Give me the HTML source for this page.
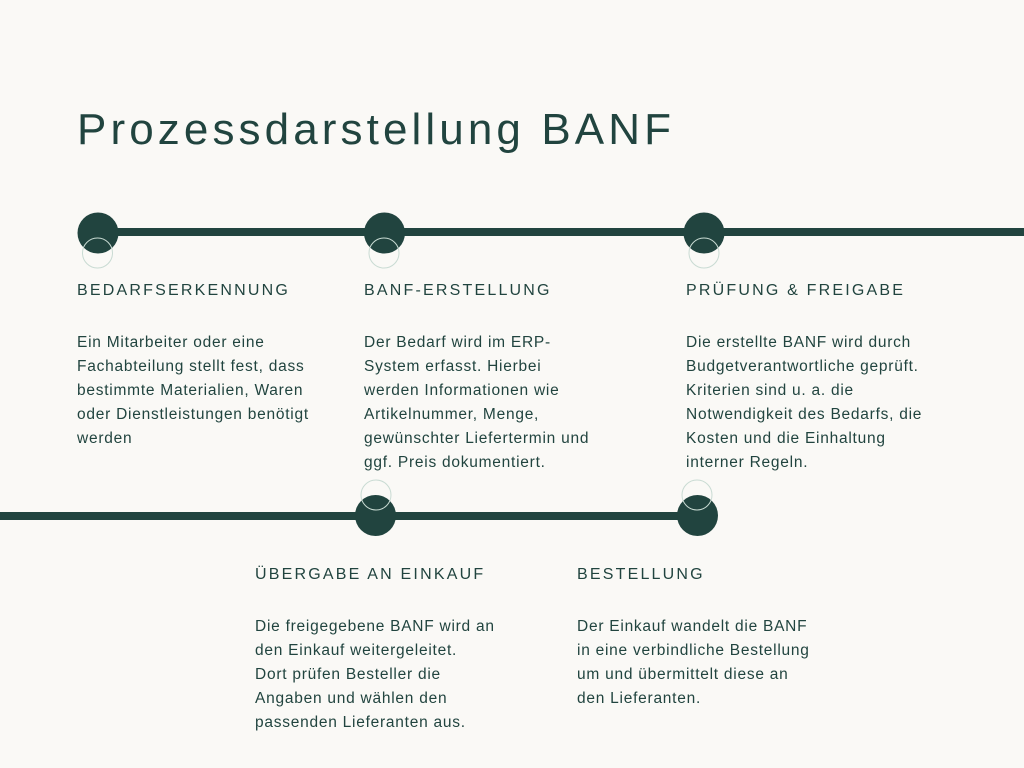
<!DOCTYPE html>
<html><head><meta charset="utf-8"><style>
body{margin:0;width:1024px;height:768px;background:#faf9f6;position:relative;overflow:hidden;font-family:"Liberation Sans",sans-serif;color:#21443f}
.t{position:absolute;left:77px;top:102px;font-size:44px;letter-spacing:4.1px;line-height:56px;white-space:nowrap}
.h{position:absolute;font-size:16px;letter-spacing:2.2px;line-height:20px;white-space:nowrap}
.p{position:absolute;font-size:15.5px;letter-spacing:0.75px;line-height:24px;white-space:nowrap}
</style></head><body>
<svg width="1024" height="768" style="position:absolute;left:0;top:0">
<rect x="98" y="228" width="926" height="8" fill="#21443f"/>
<rect x="0" y="512" width="698" height="8" fill="#21443f"/>
<g fill="#21443f">
<circle cx="98" cy="233" r="20.5"/><circle cx="384.5" cy="233" r="20.5"/><circle cx="704" cy="233" r="20.5"/>
<circle cx="375.5" cy="515.5" r="20.5"/><circle cx="697.5" cy="515.5" r="20.5"/>
</g>
<g fill="none" stroke="#c9dbd3" stroke-width="1">
<circle cx="97.5" cy="253" r="15"/><circle cx="384" cy="253" r="15"/><circle cx="704" cy="253" r="15"/>
<circle cx="376" cy="495" r="15"/><circle cx="697" cy="495" r="15"/>
</g>
</svg>
<div class="t">Prozessdarstellung BANF</div>
<div class="h" style="left:77px;top:281px">BEDARFSERKENNUNG</div>
<div class="h" style="left:364px;top:281px">BANF-ERSTELLUNG</div>
<div class="h" style="left:686px;top:281px">PRÜFUNG &amp; FREIGABE</div>
<div class="h" style="left:255px;top:565px">ÜBERGABE AN EINKAUF</div>
<div class="h" style="left:577px;top:565px">BESTELLUNG</div>
<div class="p" style="left:77px;top:331px">Ein Mitarbeiter oder eine<br>Fachabteilung stellt fest, dass<br>bestimmte Materialien, Waren<br>oder Dienstleistungen benötigt<br>werden</div>
<div class="p" style="left:364px;top:331px">Der Bedarf wird im ERP-<br>System erfasst. Hierbei<br>werden Informationen wie<br>Artikelnummer, Menge,<br>gewünschter Liefertermin und<br>ggf. Preis dokumentiert.</div>
<div class="p" style="left:686px;top:331px">Die erstellte BANF wird durch<br>Budgetverantwortliche geprüft.<br>Kriterien sind u. a. die<br>Notwendigkeit des Bedarfs, die<br>Kosten und die Einhaltung<br>interner Regeln.</div>
<div class="p" style="left:255px;top:615px">Die freigegebene BANF wird an<br>den Einkauf weitergeleitet.<br>Dort prüfen Besteller die<br>Angaben und wählen den<br>passenden Lieferanten aus.</div>
<div class="p" style="left:577px;top:615px">Der Einkauf wandelt die BANF<br>in eine verbindliche Bestellung<br>um und übermittelt diese an<br>den Lieferanten.</div>
</body></html>
